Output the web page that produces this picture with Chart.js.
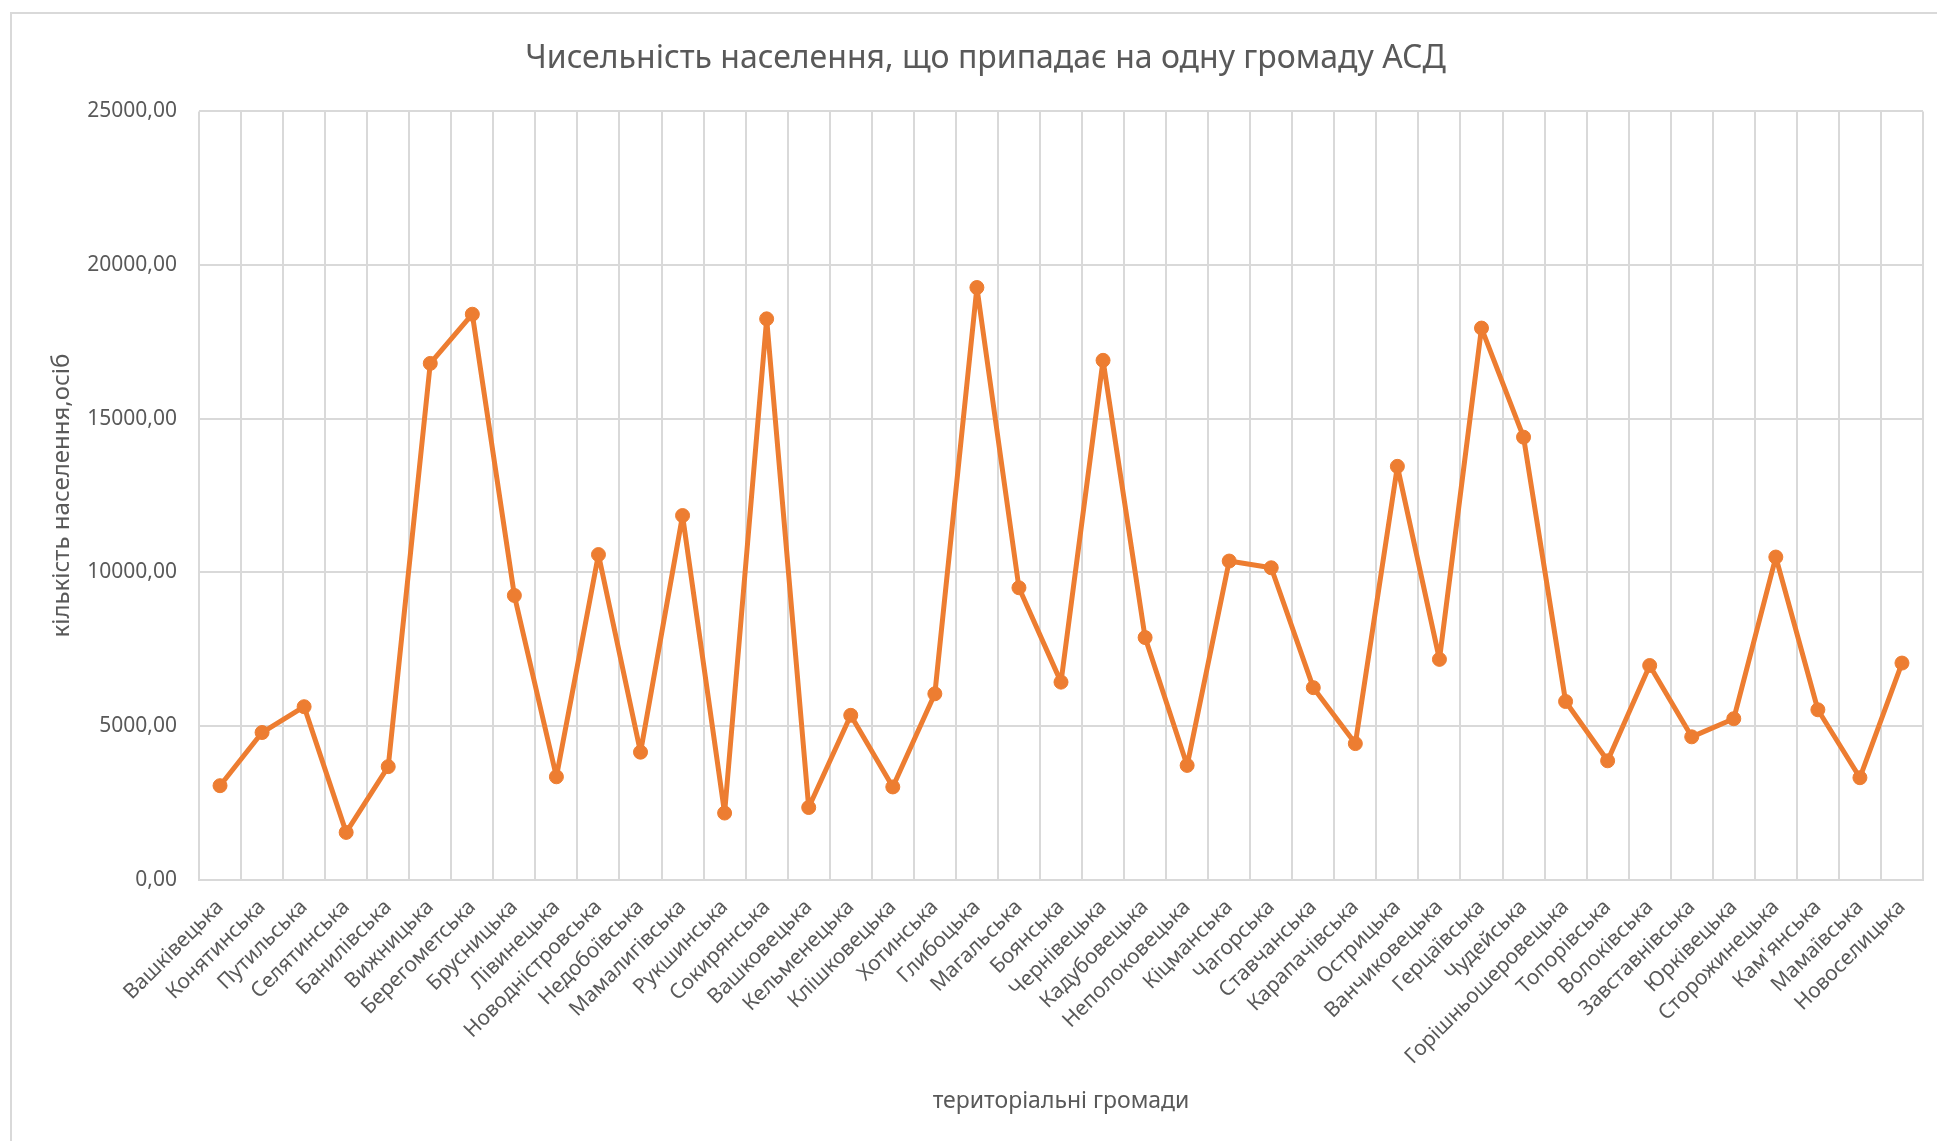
<!DOCTYPE html>
<html>
<head>
<meta charset="utf-8">
<script src="https://cdn.jsdelivr.net/npm/chart.js@4/dist/chart.umd.min.js"></script>
<style>
  html, body { margin: 0; padding: 0; background: #fff; overflow: hidden; }
  #wrap { position: relative; width: 1937px; height: 1141px; }
  #frame { position: absolute; left: 10px; top: 12px; width: 2100px; height: 1300px; border: 2px solid #d9d9d9; }
  #myChart { position: absolute; left: 0; top: 0; }
</style>
</head>
<body>
<div id="wrap">
  <div id="frame"></div>
  <canvas id="myChart" width="1937" height="1141"></canvas>
</div>
<script>
// громади і чисельність населення на одну громаду
const communities = [
  'Вашківецька', 'Конятинська', 'Путильська', 'Селятинська', 'Банилівська',
  'Вижницька', 'Берегометська', 'Брусницька', 'Лівинецька', 'Новодністровська',
  'Недобоївська', 'Мамалигівська', 'Рукшинська', 'Сокирянська', 'Вашковецька',
  'Кельменецька', 'Клішковецька', 'Хотинська', 'Глибоцька', 'Магальська',
  'Боянська', 'Чернівецька', 'Кадубовецька', 'Неполоковецька', 'Кіцманська',
  'Чагорська', 'Ставчанська', 'Карапачівська', 'Острицька', 'Ванчиковецька',
  'Герцаївська', 'Чудейська', 'Горішньошеровецька', 'Топорівська', 'Волоківська',
  'Завставнівська', 'Юрківецька', 'Сторожинецька', "Кам'янська", 'Мамаївська',
  'Новоселицька'
]
const population = [
  3060, 4790, 5630, 1540, 3680,
  16800, 18400, 9250, 3350, 10580,
  4150, 11850, 2170, 18250, 2350,
  5350, 3020, 6050, 19270, 9500,
  6430, 16900, 7880, 3720, 10370,
  10150, 6250, 4430, 13450, 7170,
  17950, 14400, 5800, 3870, 6970,
  4650, 5240, 10500, 5530, 3320,
  7050
]
const yTicks = [0, 5000, 10000, 15000, 20000, 25000]

const FONT = '"Noto Sans", sans-serif'
const GREY = '#595959'
const GRID = '#d9d9d9'
const ORANGE = '#ED7D31'

const ch = document.getElementById('myChart')

new Chart(ch, {
  type: 'line',
  data: {
    labels: communities,
    datasets: [{
      label: 'Чисельність населення',
      data: population,
      borderColor: ORANGE,
      backgroundColor: ORANGE,
      borderWidth: 5,
      borderJoinStyle: 'round',
      borderCapStyle: 'round',
      pointRadius: 7,
      pointBorderWidth: 1,
      pointBackgroundColor: ORANGE,
      pointBorderColor: ORANGE,
      tension: 0,
      fill: false,
    }],
  },
  options: {
    responsive: false,
    animation: false,
    layout: {
      padding: { left: 48, right: 14, top: 0, bottom: 26 }
    },
    plugins: {
      legend: { display: false },
      tooltip: { enabled: false },
      title: {
        display: true,
        text: 'Чисельність населення, що припадає на одну громаду АСД',
        color: GREY,
        font: { family: FONT, size: 32, weight: 'normal' },
        padding: { top: 40, bottom: 33 }
      }
    },
    scales: {
      x: {
        offset: true,
        // rotated labels should not push the plot to the right
        afterFit: (scale) => { scale.paddingLeft = 0; scale.paddingRight = 0 },
        grid: { offset: true, color: GRID, lineWidth: 2, drawTicks: false },
        border: { color: GRID, width: 2 },
        ticks: {
          autoSkip: false,
          minRotation: 45,
          maxRotation: 45,
          color: GREY,
          padding: 15,
          font: { family: FONT, size: 21 }
        },
        title: {
          display: true,
          text: 'територіальні громади',
          color: GREY,
          font: { family: FONT, size: 23 },
          padding: { top: 3, bottom: 0 }
        }
      },
      y: {
        min: 0,
        max: 25000,
        afterBuildTicks: (axis) => { axis.ticks = yTicks.map(v => ({ value: v })) },
        afterFit: (scale) => { scale.width = 151 },
        grid: { color: GRID, lineWidth: 2, drawTicks: false },
        border: { display: false },
        ticks: {
          color: GREY,
          padding: 22,
          font: { family: FONT, size: 21 },
          callback: (v) => v.toFixed(2).replace('.', ',')
        },
        title: {
          display: true,
          text: 'кількість населення,осіб',
          color: GREY,
          font: { family: FONT, size: 24 },
          padding: { top: 0, bottom: 4 }
        }
      }
    }
  },
})
</script>
</body>
</html>
